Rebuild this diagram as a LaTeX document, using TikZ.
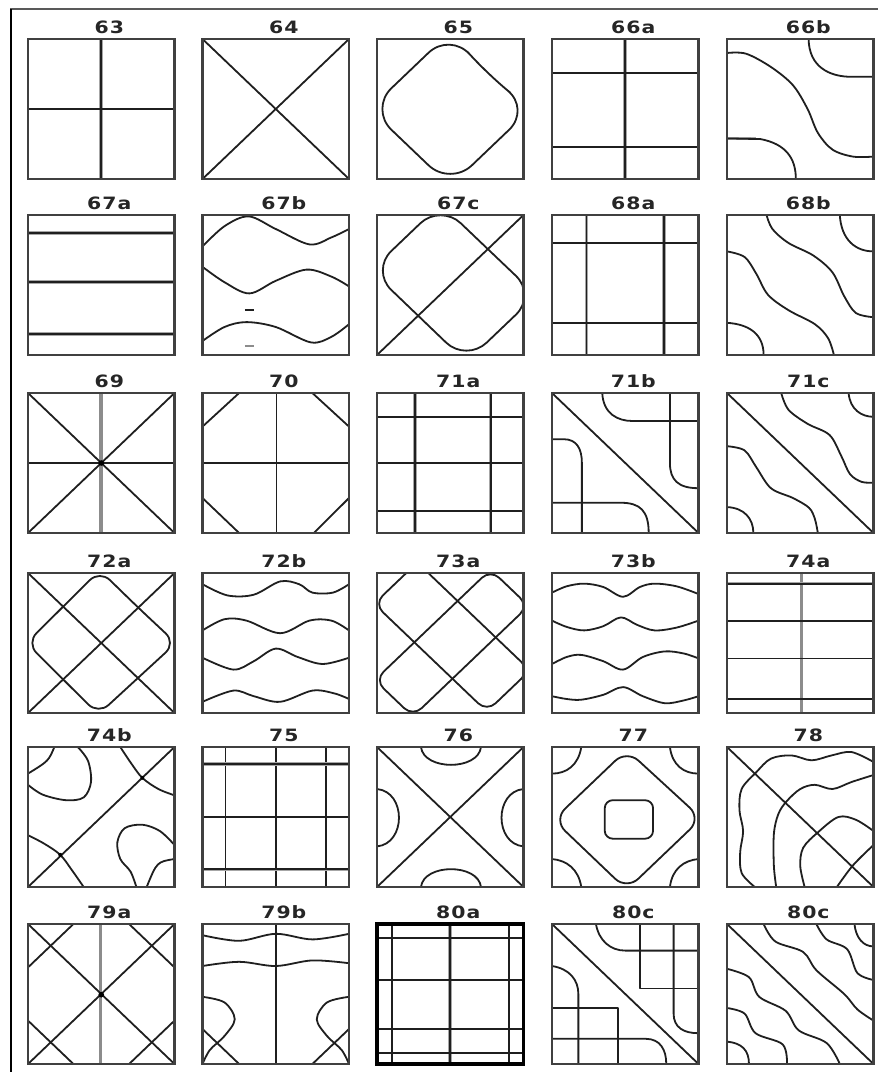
\documentclass[tikz,border=0pt]{standalone}
\usepackage{fontspec}
\newfontfamily\labfont[FakeStretch=1.2,LetterSpace=6]{DejaVu Sans Bold}
\tikzset{
  nl/.style={line width=1.8pt, draw=black!88, line join=round},
  gl/.style={line width=3.6pt, draw=black!35},
  pframe/.style={draw=black!75, line width=2.2pt},
  cell/.style 2 args={shift={(#1pt,-#2pt)}, x=146.5pt, y=-140pt},
  lab/.style={font=\labfont\fontsize{17}{17}\selectfont, inner sep=0pt, text=black!85},
  sm/.style={smooth, tension=0.55},
}
\newcommand\pbox[2]{\draw[pframe] (0,0) rectangle (1,1); \node[lab] (#1) at (0.555,-0.085) {#2};}
\newcommand\gnl[2]{\draw[gl] #1 -- #2; \draw[nl] #1 -- #2;}
\begin{document}
\begin{tikzpicture}
\useasboundingbox (0,0) rectangle (878pt,-1072pt);
\fill[white] (0,0) rectangle (878pt,-1072pt);
\draw[black!65, line width=2.8pt] (10pt,-9pt) -- (878pt,-9pt);
\draw[black, line width=2.2pt] (11pt,-9pt) -- (11pt,-1072pt);

% 63
\begin{scope}[cell={28}{39}]
 \gnl{(0.5,0)}{(0.5,1)}
 \draw[nl] (0,0.5) -- (1,0.5);
 \pbox{t63}{63}
\end{scope}
% 64
\begin{scope}[cell={202.5}{39}]
 \draw[nl] (0,0) -- (1,1) (1,0) -- (0,1);
 \pbox{t64}{64}
\end{scope}
% 65
\begin{scope}[cell={377}{39}]
 \begin{scope}\clip (0,0) rectangle (1,1);
 \draw[nl, rounded corners=30pt] (0.75,0.25) -- (1.05,0.5) -- (0.5,1.05) -- (-0.05,0.5) -- (0.5,-0.05) -- cycle;
 \end{scope}
 \pbox{t65}{65}
\end{scope}
% 66a
\begin{scope}[cell={552}{39}]
 \gnl{(0.5,0)}{(0.5,1)}
 \draw[nl] (0,0.24) -- (1,0.24) (0,0.77) -- (1,0.77);
 \pbox{t66a}{66a}
\end{scope}
% 66b
\begin{scope}[cell={727}{39}]
 \draw[nl] (0.557,0) .. controls (0.56,0.2) and (0.7,0.27) .. (0.85,0.27) -- (1,0.27);
 \draw[nl] plot[sm] coordinates {(0,0.1) (0.13,0.105) (0.3,0.2) (0.45,0.33) (0.55,0.5) (0.62,0.67) (0.72,0.79) (0.86,0.84) (1,0.84)};
 \draw[gl] (0,0.71) -- (0.2,0.71);
 \draw[nl] (0,0.71) -- (0.23,0.715) .. controls (0.4,0.75) and (0.47,0.85) .. (0.47,1);
 \pbox{t66b}{66b}
\end{scope}
% 67a
\begin{scope}[cell={28}{215}]
 \gnl{(0,0.13)}{(1,0.13)} \gnl{(0,0.48)}{(1,0.48)} \gnl{(0,0.85)}{(1,0.85)}
 \pbox{t67a}{67a}
\end{scope}
% 67b
\begin{scope}[cell={202.5}{215}]
 \draw[nl] plot[sm] coordinates {(0,0.225) (0.15,0.08) (0.315,0.01) (0.5,0.1) (0.73,0.21) (0.88,0.16) (1,0.10)};
 \draw[nl] plot[sm] coordinates {(0,0.37) (0.15,0.48) (0.32,0.56) (0.5,0.47) (0.71,0.39) (0.88,0.44) (1,0.51)};
 \draw[nl] plot[sm] coordinates {(0,0.9) (0.15,0.8) (0.3,0.765) (0.5,0.8) (0.74,0.91) (0.88,0.87) (1,0.78)};
 \draw[nl] (0.29,0.68) -- (0.35,0.68);
 \draw[nl, draw=black!45] (0.29,0.935) -- (0.35,0.935);
 \pbox{t67b}{67b}
\end{scope}
% 67c
\begin{scope}[cell={377}{215}]
 \begin{scope}\clip (0,0) rectangle (1,1);
 \draw[nl, rounded corners=28pt] (0.75,0.237) -- (1.087,0.573) -- (0.61,1.05) -- (-0.041,0.396) -- (0.434,-0.079) -- cycle;
 \end{scope}
 \draw[nl] (0,1) -- (1,0);
 \pbox{t67c}{67c}
\end{scope}
% 68a
\begin{scope}[cell={552}{215}]
 \gnl{(0.235,0)}{(0.235,1)} \gnl{(0.765,0)}{(0.765,1)}
 \draw[nl] (0,0.2) -- (1,0.2) (0,0.77) -- (1,0.77);
 \pbox{t68a}{68a}
\end{scope}
% 68b
\begin{scope}[cell={727}{215}]
 \draw[nl] (0.77,0) .. controls (0.78,0.18) and (0.88,0.26) .. (1,0.26);
 \draw[nl] plot[sm] coordinates {(0.27,0) (0.31,0.1) (0.42,0.2) (0.59,0.29) (0.72,0.41) (0.8,0.58) (0.88,0.7) (1,0.73)};
 \draw[nl] plot[sm] coordinates {(0,0.26) (0.12,0.3) (0.2,0.42) (0.28,0.57) (0.42,0.68) (0.6,0.78) (0.69,0.88) (0.73,1)};
 \draw[nl] (0,0.77) .. controls (0.15,0.78) and (0.25,0.85) .. (0.25,1);
 \pbox{t68b}{68b}
\end{scope}
% 69
\begin{scope}[cell={28}{393}]
 \draw[gl, draw=black!45] (0.5,0) -- (0.5,1);
 \draw[nl] (0,0.5) -- (1,0.5) (0,0) -- (1,1) (1,0) -- (0,1);
 \fill (0.5,0.5) circle (2.8pt);
 \pbox{t69}{69}
\end{scope}
% 70
\begin{scope}[cell={202.5}{393}]
 \draw[nl] (0.505,0) -- (0.505,1) (0,0.5) -- (1,0.5);
 \draw[nl] (0.25,0) -- (0,0.24) (0.75,0) -- (1,0.24) (0,0.75) -- (0.25,1) (1,0.75) -- (0.76,1);
 \pbox{t70}{70}
\end{scope}
% 71a
\begin{scope}[cell={377}{393}]
 \gnl{(0.26,0)}{(0.26,1)} \gnl{(0.776,0)}{(0.776,1)}
 \draw[nl] (0,0.17) -- (1,0.17) (0,0.5) -- (1,0.5) (0,0.84) -- (1,0.84);
 \pbox{t71a}{71a}
\end{scope}
% 71b
\begin{scope}[cell={552}{393}]
 \draw[nl] (0,0) -- (1,1);
 \draw[nl] (0.343,0) .. controls (0.35,0.15) and (0.45,0.2) .. (0.55,0.2) -- (1,0.2);
 \draw[nl] (0.805,0) -- (0.805,0.5) .. controls (0.805,0.62) and (0.86,0.68) .. (1,0.68);
 \draw[nl] (0,0.33) -- (0.08,0.33) .. controls (0.17,0.33) and (0.204,0.4) .. (0.204,0.5) -- (0.204,1);
 \draw[nl] (0,0.784) -- (0.47,0.784) .. controls (0.6,0.784) and (0.66,0.84) .. (0.66,1);
 \pbox{t71b}{71b}
\end{scope}
% 71c
\begin{scope}[cell={727}{393}]
 \draw[nl] (0,0) -- (1,1);
 \draw[nl] (0.83,0) .. controls (0.84,0.12) and (0.92,0.17) .. (1,0.17);
 \draw[nl] plot[sm] coordinates {(0.37,0) (0.42,0.12) (0.55,0.22) (0.7,0.3) (0.78,0.45) (0.84,0.58) (0.92,0.635) (1,0.64)};
 \draw[nl] plot[sm] coordinates {(0,0.38) (0.12,0.41) (0.2,0.53) (0.3,0.68) (0.45,0.75) (0.56,0.82) (0.6,0.9) (0.62,1)};
 \draw[nl] (0,0.815) .. controls (0.12,0.82) and (0.18,0.9) .. (0.18,1);
 \pbox{t71c}{71c}
\end{scope}
% 72a
\begin{scope}[cell={28}{573}]
 \draw[nl] (0,0) -- (1,1) (1,0) -- (0,1);
 \begin{scope}\clip (0,0) rectangle (1,1);
 \draw[nl, rounded corners=14pt] (0.75,0.245) -- (1.01,0.5) -- (0.48,1.01) -- (-0.01,0.5) -- (0.49,-0.02) -- cycle;
 \end{scope}
 \pbox{t72a}{72a}
\end{scope}
% 72b
\begin{scope}[cell={202.5}{573}]
 \draw[nl] plot[sm] coordinates {(0,0.08) (0.17,0.16) (0.35,0.155) (0.53,0.06) (0.66,0.08) (0.75,0.14) (0.89,0.14) (1,0.08)};
 \draw[nl] plot[sm] coordinates {(0,0.41) (0.15,0.33) (0.3,0.34) (0.53,0.43) (0.73,0.34) (0.88,0.34) (1,0.41)};
 \draw[nl] plot[sm] coordinates {(0,0.605) (0.21,0.69) (0.35,0.63) (0.5,0.54) (0.65,0.6) (0.82,0.65) (1,0.605)};
 \draw[nl] plot[sm] coordinates {(0,0.92) (0.21,0.84) (0.35,0.88) (0.53,0.92) (0.75,0.84) (0.9,0.86) (1,0.9)};
 \pbox{t72b}{72b}
\end{scope}
% 73a
\begin{scope}[cell={377}{573}]
 \begin{scope}\clip (0,0) rectangle (1,1);
 \draw[nl, rounded corners=12pt] (0.5,0.15) -- (1.045,0.695) -- (0.75,0.99) -- (-0.02,0.22) -- (0.275,-0.075) -- cycle;
 \draw[nl, rounded corners=12pt] (0.4,0.35) -- (0.775,-0.025) -- (1.035,0.235) -- (0.245,1.025) -- (-0.015,0.765) -- cycle;
 \end{scope}
 \pbox{t73a}{73a}
\end{scope}
% 73b
\begin{scope}[cell={552}{573}]
 \draw[nl] plot[sm] coordinates {(0,0.14) (0.1,0.095) (0.22,0.076) (0.35,0.1) (0.485,0.17) (0.6,0.1) (0.7,0.076) (0.85,0.095) (1,0.15)};
 \draw[nl] plot[sm] coordinates {(0,0.34) (0.1,0.385) (0.22,0.41) (0.35,0.38) (0.47,0.317) (0.58,0.37) (0.7,0.41) (0.85,0.39) (1,0.34)};
 \draw[nl] plot[sm] coordinates {(0,0.65) (0.1,0.6) (0.2,0.585) (0.35,0.63) (0.485,0.69) (0.62,0.6) (0.77,0.56) (0.9,0.575) (1,0.61)};
 \draw[nl] plot[sm] coordinates {(0,0.88) (0.1,0.9) (0.2,0.905) (0.35,0.87) (0.485,0.815) (0.62,0.88) (0.77,0.93) (0.9,0.91) (1,0.88)};
 \pbox{t73b}{73b}
\end{scope}
% 74a
\begin{scope}[cell={727}{573}]
 \draw[gl, draw=black!45] (0.508,0) -- (0.508,1);
 \gnl{(0,0.076)}{(1,0.076)}
 \draw[nl] (0,0.34) -- (1,0.34) (0,0.61) -- (1,0.61) (0,0.9) -- (1,0.9);
 \pbox{t74a}{74a}
\end{scope}
% 74b
\begin{scope}[cell={28}{747}]
 \draw[nl] (0,1) -- (1,0);
 \draw[nl] plot[sm] coordinates {(0.63,0) (0.7,0.11) (0.78,0.22) (0.89,0.3) (1,0.345)};
 \draw[nl] plot[sm] coordinates {(0,0.63) (0.11,0.69) (0.22,0.77) (0.3,0.88) (0.38,1)};
 \draw[nl] (0.18,0) .. controls (0.14,0.1) .. (0,0.19);
 \draw[nl] plot[sm] coordinates {(0.34,0) (0.41,0.1) (0.43,0.25) (0.38,0.36) (0.26,0.38) (0.1,0.34) (0,0.27)};
 \draw[nl] plot[sm] coordinates {(1,0.70) (0.9,0.6) (0.78,0.555) (0.66,0.58) (0.61,0.68) (0.63,0.8) (0.7,0.89) (0.74,1)};
 \draw[nl] (1,0.8) .. controls (0.88,0.82) .. (0.81,1);
 \fill (0.22,0.77) circle (2pt) (0.78,0.22) circle (2pt);
 \pbox{t74b}{74b}
\end{scope}
% 75
\begin{scope}[cell={202.5}{747}]
 \draw[nl] (0.157,0) -- (0.157,1) (0.5,0) -- (0.5,1) (0.843,0) -- (0.843,1);
 \gnl{(0,0.12)}{(1,0.12)} \gnl{(0,0.874)}{(1,0.874)}
 \draw[nl] (0,0.5) -- (1,0.5);
 \pbox{t75}{75}
\end{scope}
% 76
\begin{scope}[cell={377}{747}]
 \draw[nl] (0,0) -- (1,1) (1,0) -- (0,1);
 \draw[nl] (0.3,0) .. controls (0.32,0.17) and (0.69,0.17) .. (0.71,0);
 \draw[nl] (0.3,1) .. controls (0.32,0.83) and (0.69,0.83) .. (0.71,1);
 \draw[nl] (0,0.3) .. controls (0.2,0.32) and (0.2,0.69) .. (0,0.71);
 \draw[nl] (1,0.3) .. controls (0.8,0.32) and (0.8,0.69) .. (1,0.71);
 \pbox{t76}{76}
\end{scope}
% 77
\begin{scope}[cell={552}{747}]
 \draw[nl] (0.2,0) .. controls (0.18,0.13) and (0.1,0.19) .. (0,0.19);
 \draw[nl] (0.805,0) .. controls (0.82,0.13) and (0.9,0.19) .. (1,0.19);
 \draw[nl] (0,0.8) .. controls (0.1,0.81) and (0.18,0.87) .. (0.2,1);
 \draw[nl] (1,0.8) .. controls (0.9,0.81) and (0.82,0.87) .. (0.805,1);
 \begin{scope}\clip (0,0) rectangle (1,1);
 \draw[nl, rounded corners=16pt] (0.765,0.265) -- (1.02,0.51) -- (0.51,1.02) -- (0.01,0.52) -- (0.51,0.02) -- cycle;
 \end{scope}
 \draw[nl, rounded corners=8pt] (0.36,0.38) rectangle (0.69,0.655);
 \pbox{t77}{77}
\end{scope}
% 78
\begin{scope}[cell={727}{747}]
 \draw[nl] (0,0) -- (1,1);
 \draw[nl] plot[sm] coordinates {(0.19,1) (0.1,0.9) (0.09,0.75) (0.11,0.6) (0.085,0.45) (0.1,0.3) (0.2,0.18) (0.3,0.083) (0.44,0.06) (0.577,0.095) (0.714,0.06) (0.85,0.036) (1,0.107)};
 \draw[nl] plot[sm] coordinates {(0.336,1) (0.32,0.85) (0.32,0.62) (0.35,0.48) (0.405,0.39) (0.5,0.3) (0.6,0.27) (0.72,0.3) (0.85,0.25) (1,0.2)};
 \draw[nl] plot[sm] coordinates {(0.53,1) (0.5,0.85) (0.52,0.72) (0.62,0.61) (0.76,0.5) (0.88,0.52) (1,0.6)};
 \draw[nl] plot[sm] coordinates {(0.75,1) (0.86,0.845) (1,0.7)};
 \pbox{t78}{78}
\end{scope}
% 79a
\begin{scope}[cell={28}{924}]
 \draw[gl, draw=black!45] (0.495,0) -- (0.495,1);
 \draw[nl] (0,0) -- (1,1) (1,0) -- (0,1);
 \draw[nl] (0.31,0) -- (0,0.31) (0.69,0) -- (1,0.31) (0,0.69) -- (0.31,1) (1,0.69) -- (0.69,1);
 \fill (0.5,0.505) circle (2.8pt);
 \pbox{t79a}{79a}
\end{scope}
% 79b
\begin{scope}[cell={202.5}{924}]
 \draw[nl] (0.5,0) -- (0.5,1);
 \draw[nl] plot[sm] coordinates {(0,0.08) (0.25,0.12) (0.5,0.07) (0.75,0.11) (1,0.07)};
 \draw[nl] plot[sm] coordinates {(0,0.3) (0.25,0.27) (0.5,0.3) (0.75,0.26) (1,0.28)};
 \draw[nl] plot[sm] coordinates {(0,0.52) (0.15,0.56) (0.22,0.68) (0.15,0.8) (0.05,0.9) (0,1)};
 \draw[nl] (0,0.75) -- (0.25,1);
 \draw[nl] plot[sm] coordinates {(1,0.52) (0.85,0.56) (0.78,0.68) (0.85,0.8) (0.95,0.9) (1,1)};
 \draw[nl] (1,0.75) -- (0.75,1);
 \pbox{t79b}{79b}
\end{scope}
% 80a
\begin{scope}[cell={377}{924}]
 \draw[nl] (0.1,0) -- (0.1,1) (0.9,0) -- (0.9,1);
 \gnl{(0.5,0)}{(0.5,1)}
 \draw[nl] (0,0.1) -- (1,0.1) (0,0.4) -- (1,0.4) (0,0.75) -- (1,0.75) (0,0.92) -- (1,0.92);
 \draw[black, line width=3.2pt] (0,0) rectangle (1,1);
 \node[lab] (t80a) at (0.555,-0.085) {80a};
\end{scope}
% 80c (1)
\begin{scope}[cell={552}{924}]
 \draw[nl] (0,0) -- (1,1);
 \draw[nl] (0.3,0) .. controls (0.32,0.12) and (0.4,0.19) .. (0.5,0.19) -- (1,0.19);
 \draw[nl] (0.6,0) -- (0.6,0.46) -- (1,0.46);
 \draw[nl] (0.83,0) -- (0.83,0.64) .. controls (0.83,0.74) and (0.9,0.78) .. (1,0.78);
 \draw[nl] (0,0.3) .. controls (0.12,0.32) and (0.18,0.4) .. (0.18,0.5) -- (0.18,1);
 \draw[nl] (0,0.6) -- (0.45,0.6) -- (0.45,1);
 \draw[nl] (0,0.82) -- (0.64,0.82) .. controls (0.74,0.82) and (0.78,0.9) .. (0.78,1);
 \pbox{t80c}{80c}
\end{scope}
% 80c (2)
\begin{scope}[cell={727}{924}]
 \draw[nl] (0,0) -- (1,1);
 \draw[nl] plot[sm] coordinates {(0.25,0) (0.33,0.125) (0.52,0.2) (0.61,0.33) (0.8,0.5) (0.89,0.61) (1,0.69)};
 \draw[nl] plot[sm] coordinates {(0.61,0) (0.68,0.11) (0.82,0.18) (0.89,0.35) (1,0.40)};
 \draw[nl] (0.87,0) .. controls (0.88,0.1) and (0.93,0.16) .. (1,0.16);
 \draw[nl] plot[sm] coordinates {(0,0.32) (0.15,0.38) (0.22,0.52) (0.40,0.62) (0.49,0.76) (0.68,0.85) (0.77,1)};
 \draw[nl] plot[sm] coordinates {(0,0.6) (0.12,0.64) (0.195,0.78) (0.38,0.86) (0.41,1)};
 \draw[nl] (0,0.84) .. controls (0.1,0.85) and (0.15,0.9) .. (0.15,1);
 \pbox{t80cc}{80c}
\end{scope}
\end{tikzpicture}
\end{document}
